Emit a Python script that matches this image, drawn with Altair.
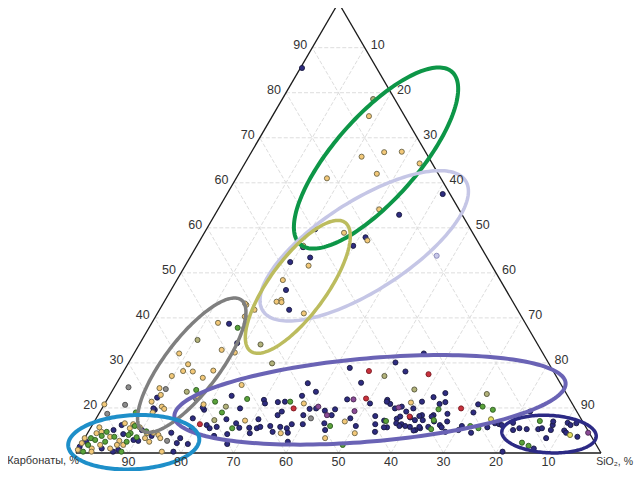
import math
import numpy as np
import pandas as pd
import altair as alt

# ---------------- data: ternary compositions (SiO2 %, third component %) ----------------
# carbonates % = 100 - SiO2 - third
navy_sio2 = [0.3, 41.1, 35.1, 20.7, 31.2, 29.8, 20.4, 22.9, 19.6, 21.9, 24.7, 14.8, 18.5, 9.3, 10.2, 9.8,
             19.6, 23.3, 26.3, 19.1, 18.4, 21.8, 22.7, 23.9, 24.9, 27.2, 28.3, 19.3, 24.4, 26.7, 27.8, 30.2,
             30.9, 31.7, 31.0, 29.9, 30.5, 32.8, 34.1, 34.2, 34.6, 32.2, 34.0, 35.1, 36.0, 37.4, 38.1, 37.9,
             40.0, 36.4, 36.7, 39.1, 39.6, 38.9, 40.8, 42.7, 44.0, 44.9, 44.5, 44.5, 42.7, 46.5, 45.7, 50.5,
             48.4, 52.9, 53.8, 50.3, 54.6, 55.1, 53.4, 54.4, 56.4, 55.8, 57.3, 56.9, 58.8, 59.7, 59.7, 60.7,
             62.1, 62.8, 59.3, 55.2, 50.8, 53.7, 53.5, 61.9, 63.7, 64.7, 63.9, 66.2, 68.0, 64.2, 61.7, 39.1,
             60.2, 63.8, 71.2, 71.2, 57.7, 58.3, 60.9, 61.3, 62.4, 63.7, 64.7, 66.4, 67.2, 55.8, 57.7, 58.6,
             61.8, 62.5, 66.8, 70.3, 70.5, 73.0, 75.5, 76.5, 77.4, 78.0, 81.9, 79.9, 80.7, 81.7, 83.2, 85.4,
             86.0, 87.9, 87.7, 87.4, 87.9, 90.5, 90.3, 91.1, 91.1, 93.7, 86.7, 92.0, 81.1,
             5.6, 10.0, 6.9, 12.5, 15.9, 18.2, 20.3, 18.4, 10.5, 9.5, 0.7, 0.0, 4.6, 4.4, 7.7, 6.9, 18.1]
navy_third = [85.5, 57.5, 52.9, 49.7, 47.9, 46.0, 45.7, 43.4, 42.4, 36.2, 31.8, 28.7, 24.4, 12.3, 9.6, 9.9,
              9.6, 12.7, 9.9, 10.1, 7.7, 6.2, 5.5, 5.8, 7.5, 6.6, 5.6, 5.5, 3.8, 4.2, 2.0, 5.6,
              4.4, 5.5, 7.5, 11.8, 11.0, 11.3, 11.4, 8.4, 9.2, 5.8, 6.0, 4.7, 5.8, 5.5, 4.5, 6.4,
              6.4, 15.5, 12.7, 8.4, 9.8, 13.6, 9.9, 9.4, 6.6, 5.1, 9.7, 8.4, 18.9, 15.6, 11.9, 11.0,
              7.7, 8.2, 6.4, 6.0, 4.7, 7.2, 11.8, 10.9, 5.7, 9.9, 7.6, 10.3, 6.4, 6.0, 7.9, 5.8,
              5.1, 5.5, 9.9, 22.1, 20.1, 18.1, 11.4, 12.4, 13.3, 11.3, 8.4, 6.2, 4.7, 5.8, 8.4, 2.5,
              11.4, 10.9, 10.8, 9.0, 8.1, 9.2, 7.3, 8.2, 7.3, 8.1, 7.0, 8.7, 7.0, 5.7, 6.6, 6.0,
              5.0, 5.8, 5.7, 5.1, 6.0, 4.5, 5.7, 6.6, 6.4, 6.2, 9.2, 6.7, 5.1, 5.5, 5.3, 5.3,
              5.5, 5.1, 6.2, 7.0, 3.3, 5.0, 6.7, 6.2, 4.5, 3.6, 1.0, 6.6, 0.3,
              6.2, 5.1, 4.2, 3.8, 4.5, 3.3, 2.0, 0.3, 2.7, 2.9, 2.5, 1.4, 5.1, 1.0, 0.7, 0.3, 2.2]

green_sio2 = [16.9, 15.9, 6.9, 20.8, 23.3, 26.6, 27.0, 35.1, 45.4, 49.9, 64.5, 64.2, 72.3, 74.6, 55.5, 65.0,
              72.1, 73.9, 84.8, 83.8, 85.4, 8.2, 8.2, 8.0, 8.4, 1.2, 2.2, 3.5, 4.3, 1.4, 1.2, 8.5,
              5.5, 9.8, 11.0, 3.0]
green_third = [27.8, 14.0, 9.0, 11.4, 9.0, 12.0, 5.5, 11.4, 6.0, 1.8, 7.3, 9.7, 10.3, 9.6, 7.1, 5.3,
               6.0, 5.5, 7.1, 2.3, 1.6, 6.0, 4.4, 4.0, 2.5, 3.3, 2.9, 4.7, 2.5, 1.8, 0.3, 0.3,
               3.6, 3.5, 4.8, 3.8]

tan_sio2 = [18.4, 21.5, 25.3, 28.6, 33.3, 26.3, 17.3, 30.7, 26.6, 31.9, 20.3, 23.5, 20.2, 22.1, 21.4, 22.4,
            27.9, 16.0, 17.0, 12.6, 18.2, 16.3, 19.1, 8.6, 11.5, 11.3, 13.2, 17.0, 15.8, 9.7, 24.0, 8.7,
            17.0, 9.7, 8.7, 11.2, 15.6, 18.1, 0.0, 11.9, 10.1, 18.9, 28.6, 36.8, 37.9, 45.8, 47.7, 50.9,
            58.2, 6.0, 7.7, 7.5, 9.3, 11.3, 12.5, 13.7, 14.4, 11.5, 12.7, 6.9, 4.7, 2.5, 1.7, 1.6,
            0.0, 0.0, 3.7, 2.5, 6.0, 6.9, 8.1, 0.0, 2.8, 16.2]
tan_third = [74.8, 65.8, 66.8, 66.9, 64.3, 62.0, 61.0, 54.1, 48.9, 47.2, 46.0, 41.6, 38.4, 34.0, 33.6, 33.5,
             31.0, 32.9, 30.3, 28.9, 27.7, 22.9, 22.3, 22.1, 19.7, 18.2, 18.1, 18.3, 16.7, 17.1, 15.1, 14.4,
             12.5, 12.9, 11.4, 10.3, 33.2, 31.8, 10.8, 9.8, 9.0, 10.8, 7.2, 4.4, 11.0, 3.3, 7.0, 4.4,
             11.2, 6.6, 6.4, 5.5, 5.7, 4.4, 4.5, 4.0, 3.3, 3.3, 2.5, 2.7, 3.6, 4.7, 4.4, 5.7,
             3.3, 2.2, 1.8, 1.0, 1.0, 1.8, 1.8, 0.7, 0.3, 0.3]

olive_sio2 = [17.3, 23.1, 27.4, 10.6, 14.3, 23.4, 22.7, 50.2, 57.4, 71.7]
olive_third = [78.6, 24.1, 19.9, 25.1, 13.6, 10.3, 7.3, 17.1, 14.1, 13.1]

gray_sio2 = [10.0, 2.7, 4.0, 1.6, 16.8, 40.9, 16.0]
gray_third = [14.2, 14.6, 10.7, 8.7, 12.1, 7.7, 2.7]

red_sio2 = [20.4, 36.5, 46.7, 49.2, 59.5, 58.4, 68.4]
red_third = [6.4, 9.9, 18.2, 12.1, 8.1, 17.5, 9.9]

purple_sio2 = [41.0, 43.6, 46.9, 48.4, 56.4, 95.3]
purple_third = [10.3, 8.4, 11.9, 9.3, 10.1, 4.5]

lavender_sio2 = [46.8]
lavender_third = [43.8]

yellow_sio2 = [75.3, 92.1]
yellow_third = [7.5, 4.0]

# grouping ellipses (centre as SiO2 %, third %; semi-axes in % units; tilt in degrees)
ell_names = ["green", "lavender", "olive", "gray", "purple", "cyan", "navy"]
ell_sio2 = [24.4, 31.9, 23.8, 12.3, 50.1, 9.8, 88.0]
ell_third = [65.5, 46.0, 36.9, 19.5, 11.8, 2.4, 4.2]
ell_a = [22.0, 23.0, 15.3, 15.7, 37.4, 12.5, 9.0]
ell_b = [8.0, 8.6, 5.4, 5.2, 8.0, 5.2, 3.6]
ell_angle = [49, 33, 54, 53, 5, 3, -3]
ell_colors = ["#0d9647", "#c5c6e6", "#bcbc5e", "#7f7f7f", "#6a63b5", "#1e8fc9", "#2c2a85"]
ell_widths = [4.0, 3.5, 3.5, 3.5, 4.0, 4.0, 3.5]

# axis tick labels
ticks = [10, 20, 30, 40, 50, 60, 70, 80, 90]
left_labels = ["20", "30", "40", "50", "60", "60", "70", "80", "90"]
right_labels = ["10", "20", "30", "40", "50", "60", "70", "80", "90"]
bottom_labels = ["90", "80", "70", "60", "50", "40", "30", "20", "10"]

# ---------------- geometry helpers ----------------
SQ = math.sqrt(3) / 2


def to_xy(s, t):
    return s + t / 2.0, t * SQ


groups = [
    ("navy", navy_sio2, navy_third, "#2e2c80", "#1a1a3e"),
    ("gray", gray_sio2, gray_third, "#8c8c8c", "#4a4a4a"),
    ("olive", olive_sio2, olive_third, "#b2b27a", "#55553a"),
    ("tan", tan_sio2, tan_third, "#f3c878", "#6b6446"),
    ("green", green_sio2, green_third, "#5aa23a", "#2e5a22"),
    ("red", red_sio2, red_third, "#c8303c", "#7a1c22"),
    ("purple", purple_sio2, purple_third, "#8a4a96", "#4a2a50"),
    ("lavender", lavender_sio2, lavender_third, "#c8c8e8", "#8888b8"),
    ("yellow", yellow_sio2, yellow_third, "#e6e060", "#6a6a30"),
]
rows = []
for name, ss, tt, fill, stroke in groups:
    for s, t in zip(ss, tt):
        x, y = to_xy(s, t)
        rows.append({"x": x, "y": y, "fill": fill, "stroke": stroke})
pts = pd.DataFrame(rows)

# grid lines (three families) and triangle
grid = []
for k in ticks:
    for (s1, t1), (s2, t2) in [
        ((0, k), (100 - k, k)),          # constant third
        ((k, 0), (k, 100 - k)),          # constant SiO2
        ((100 - k, 0), (0, 100 - k)),    # constant carbonates
    ]:
        x1, y1 = to_xy(s1, t1)
        x2, y2 = to_xy(s2, t2)
        grid.append({"x": x1, "y": y1, "x2": x2, "y2": y2})
grid = pd.DataFrame(grid)

corners = [(0, 0), (100, 0), (0, 100)]
tri = []
for i in range(3):
    x1, y1 = to_xy(*corners[i])
    x2, y2 = to_xy(*corners[(i + 1) % 3])
    tri.append({"x": x1, "y": y1, "x2": x2, "y2": y2})
tri = pd.DataFrame(tri)

# ellipses
erows = []
th = np.linspace(0, 2 * np.pi, 181)
for n, s, t, a, b, ang, col, w in zip(ell_names, ell_sio2, ell_third, ell_a, ell_b, ell_angle, ell_colors, ell_widths):
    cx, cy = to_xy(s, t)
    ph = math.radians(ang)
    for i, q in enumerate(th):
        ex = cx + a * math.cos(q) * math.cos(ph) - b * math.sin(q) * math.sin(ph)
        ey = cy + a * math.cos(q) * math.sin(ph) + b * math.sin(q) * math.cos(ph)
        erows.append({"name": n, "i": i, "x": ex, "y": ey, "col": col, "w": w})
ell = pd.DataFrame(erows)

# labels
lrows, rrows, brows = [], [], []
for k, lab in zip(ticks, left_labels):
    x, y = to_xy(0, k)
    lrows.append({"x": x, "y": y, "text": lab})
for k, lab in zip(ticks, right_labels):
    x, y = to_xy(k, 100 - k)
    rrows.append({"x": x, "y": y, "text": lab})
for k, lab in zip(ticks, bottom_labels):
    x, y = to_xy(100 - int(lab), 0)
    brows.append({"x": x, "y": y, "text": lab})
ldf, rdf, bdf = pd.DataFrame(lrows), pd.DataFrame(rrows), pd.DataFrame(brows)
cdf_left = pd.DataFrame([{"x": 0.0, "y": 0.0, "text": "Карбонаты, %"}])
cdf_right = pd.DataFrame([{"x": 100.0, "y": 0.0, "text": "SiO₂, %"}])

# ---------------- scales ----------------
W, H = 627, 463
PX, PY = 5.25, 5.2
X0, Y0 = 68, 18
xs = alt.Scale(domain=[-X0 / PX, (W - X0) / PX], nice=False, zero=False)
ys = alt.Scale(domain=[-Y0 / PY, (H - Y0) / PY], nice=False, zero=False)
X = lambda f="x": alt.X(f"{f}:Q", scale=xs, axis=None)
Y = lambda f="y": alt.Y(f"{f}:Q", scale=ys, axis=None)

FONT = "Liberation Sans"
TXT = "#333333"

grid_layer = alt.Chart(grid).mark_rule(color="#dddddd", strokeWidth=1, strokeDash=[4, 2]).encode(
    x=X(), y=Y(), x2="x2:Q", y2="y2:Q")
tri_layer = alt.Chart(tri).mark_rule(color="#1a1a1a", strokeWidth=1.3).encode(
    x=X(), y=Y(), x2="x2:Q", y2="y2:Q")
pt_layer = alt.Chart(pts).mark_point(shape="circle", filled=True, size=26, strokeWidth=0.9, opacity=1).encode(
    x=X(), y=Y(),
    fill=alt.Fill("fill:N", scale=None),
    stroke=alt.Stroke("stroke:N", scale=None))
ell_layer = alt.Chart(ell).mark_line(strokeCap="round").encode(
    x=X(), y=Y(), detail="name:N", order="i:Q",
    color=alt.Color("col:N", scale=None),
    strokeWidth=alt.StrokeWidth("w:Q", scale=None))

left_txt = alt.Chart(ldf).mark_text(align="right", baseline="middle", dx=-5, dy=-3, font=FONT, fontSize=12.5, color=TXT).encode(
    x=X(), y=Y(), text="text:N")
right_txt = alt.Chart(rdf).mark_text(align="left", baseline="middle", dx=6, dy=-3, font=FONT, fontSize=12.5, color=TXT).encode(
    x=X(), y=Y(), text="text:N")
bot_txt = alt.Chart(bdf).mark_text(align="center", baseline="middle", dy=9, font=FONT, fontSize=12.5, color=TXT).encode(
    x=X(), y=Y(), text="text:N")
cl_txt = alt.Chart(cdf_left).mark_text(align="right", baseline="middle", dx=3, dy=8, font=FONT, fontSize=11, color=TXT).encode(
    x=X(), y=Y(), text="text:N")
cr_txt = alt.Chart(cdf_right).mark_text(align="right", baseline="middle", dx=32, dy=9, font=FONT, fontSize=10.5, color=TXT).encode(
    x=X(), y=Y(), text="text:N")

chart = alt.layer(grid_layer, tri_layer, pt_layer, ell_layer, left_txt, right_txt, bot_txt, cl_txt, cr_txt).properties(
    width=W, height=H, padding=0, autosize=alt.AutoSizeParams(type="none"), background="white"
).configure_view(stroke=None)

chart.save("out.html", embed_options={"renderer": "svg", "actions": False})
